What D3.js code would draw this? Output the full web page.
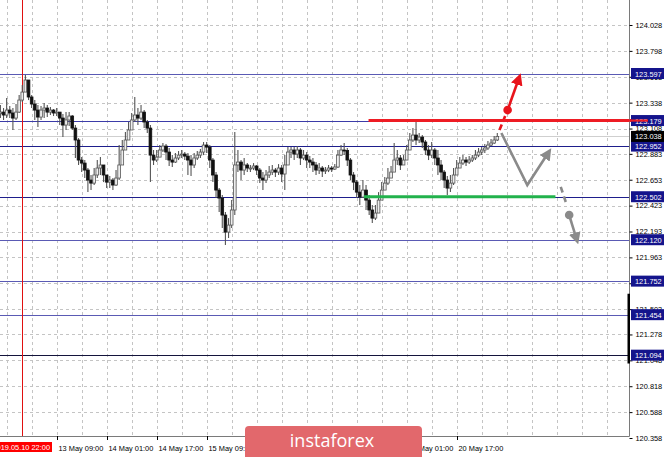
<!DOCTYPE html>
<html><head><meta charset="utf-8">
<script src="https://cdn.jsdelivr.net/npm/d3@7"></script>
<style>html,body{margin:0;padding:0;background:#fff;}svg{display:block;}</style>
</head><body>
<svg id="chart" width="665" height="457"></svg>
<script>
// ---- DATA (H1 candles) ----
const opens = [123.240,123.254,123.228,123.272,123.246,123.201,123.254,123.361,123.432,123.539,123.388,123.326,123.272,123.210,123.272,123.290,123.254,123.272,123.246,123.254,123.201,123.139,123.184,123.219,123.112,123.006,122.828,122.801,122.739,122.650,122.623,122.695,122.757,122.784,122.695,122.632,122.650,122.606,122.668,122.784,122.917,123.006,123.095,123.184,123.228,123.201,123.254,123.166,123.112,122.872,122.828,122.854,122.917,122.952,122.899,122.828,122.810,122.846,122.872,122.881,122.863,122.828,122.784,122.846,122.872,122.899,122.961,122.943,122.828,122.695,122.561,122.490,122.339,122.188,122.250,122.384,122.784,122.810,122.739,122.784,122.757,122.757,122.775,122.739,122.668,122.650,122.695,122.721,122.739,122.721,122.757,122.704,122.784,122.899,122.917,122.881,122.917,122.846,122.872,122.828,122.810,122.784,122.739,122.757,122.730,122.739,122.757,122.748,122.766,122.872,122.917,122.912,122.828,122.695,122.632,122.543,122.499,122.561,122.472,122.384,122.312,122.357,122.472,122.561,122.623,122.668,122.721,122.828,122.846,122.784,122.828,122.917,123.006,123.050,123.006,123.032,122.988,122.917,122.872,122.917,122.846,122.784,122.721,122.650,122.579,122.623,122.695,122.757,122.801,122.828,122.810,122.828,122.846,122.872,122.899,122.917,122.935,122.961,122.979,123.006];
const highs = [123.317,123.290,123.379,123.308,123.290,123.326,123.406,123.494,123.583,123.468,123.406,123.361,123.317,123.308,123.334,123.317,123.299,123.281,123.290,123.254,123.237,123.254,123.254,123.228,123.139,123.023,122.854,122.828,122.757,122.695,122.757,122.828,122.854,122.784,122.695,122.686,122.668,122.739,122.961,123.006,123.077,123.166,123.246,123.388,123.290,123.317,123.272,123.184,123.139,122.917,122.917,122.961,122.979,122.970,122.935,122.872,122.890,122.908,122.917,122.899,122.890,122.872,122.890,122.908,122.926,122.988,122.988,122.961,122.846,122.721,122.579,122.517,122.366,122.312,122.472,123.077,122.917,122.828,122.846,122.801,122.784,122.801,122.784,122.757,122.721,122.739,122.775,122.784,122.757,122.792,122.784,122.872,122.943,122.943,122.943,122.952,122.935,122.917,122.899,122.863,122.846,122.810,122.801,122.775,122.766,122.784,122.775,122.792,122.917,122.961,122.979,122.935,122.846,122.721,122.650,122.606,122.650,122.606,122.517,122.428,122.428,122.543,122.632,122.677,122.757,122.775,122.979,122.917,122.872,122.872,122.961,123.068,123.112,123.184,123.068,123.050,123.006,122.961,122.988,122.935,122.917,122.828,122.739,122.686,122.695,122.757,122.828,122.854,122.872,122.854,122.863,122.872,122.917,122.935,122.943,122.970,122.997,123.014,123.041,123.068];
const lows = [123.201,123.184,123.201,123.201,123.095,123.184,123.246,123.343,123.432,123.361,123.290,123.184,123.121,123.184,123.201,123.210,123.228,123.219,123.219,123.139,123.032,123.095,123.130,123.095,122.846,122.784,122.721,122.668,122.543,122.561,122.606,122.668,122.695,122.632,122.579,122.579,122.561,122.597,122.650,122.828,122.917,123.006,123.112,123.166,123.139,123.184,123.112,123.068,122.632,122.784,122.810,122.854,122.899,122.828,122.775,122.766,122.801,122.828,122.846,122.828,122.695,122.686,122.757,122.828,122.846,122.872,122.890,122.757,122.632,122.490,122.366,122.224,122.072,122.135,122.224,122.339,122.721,122.650,122.695,122.721,122.721,122.739,122.695,122.623,122.561,122.623,122.668,122.695,122.677,122.695,122.632,122.561,122.784,122.846,122.828,122.846,122.784,122.828,122.757,122.757,122.721,122.695,122.704,122.677,122.704,122.721,122.721,122.739,122.757,122.863,122.872,122.775,122.650,122.561,122.490,122.428,122.490,122.384,122.339,122.268,122.295,122.401,122.517,122.561,122.606,122.668,122.739,122.784,122.739,122.784,122.846,122.917,122.988,122.961,122.979,122.935,122.872,122.828,122.846,122.784,122.695,122.650,122.579,122.517,122.543,122.606,122.695,122.757,122.784,122.775,122.792,122.810,122.828,122.854,122.872,122.890,122.917,122.952,122.970,122.997];
const closes = [123.254,123.228,123.272,123.246,123.201,123.254,123.361,123.432,123.539,123.388,123.326,123.272,123.210,123.272,123.290,123.254,123.272,123.246,123.254,123.201,123.139,123.184,123.219,123.112,123.006,122.828,122.801,122.739,122.650,122.623,122.695,122.757,122.784,122.695,122.632,122.650,122.606,122.668,122.784,122.917,123.006,123.095,123.184,123.228,123.201,123.254,123.166,123.112,122.872,122.828,122.854,122.917,122.952,122.899,122.828,122.810,122.846,122.872,122.881,122.863,122.828,122.784,122.846,122.872,122.899,122.961,122.943,122.828,122.695,122.561,122.490,122.339,122.188,122.250,122.384,122.784,122.810,122.739,122.784,122.757,122.757,122.775,122.739,122.668,122.650,122.695,122.721,122.739,122.721,122.757,122.704,122.784,122.899,122.917,122.881,122.917,122.846,122.872,122.828,122.810,122.784,122.739,122.757,122.730,122.739,122.757,122.748,122.766,122.872,122.917,122.912,122.828,122.695,122.632,122.543,122.499,122.561,122.472,122.384,122.312,122.357,122.472,122.561,122.623,122.668,122.721,122.828,122.846,122.784,122.828,122.917,123.006,123.050,123.006,123.032,122.988,122.917,122.872,122.917,122.846,122.784,122.721,122.650,122.579,122.623,122.695,122.757,122.801,122.828,122.810,122.828,122.846,122.872,122.899,122.917,122.935,122.961,122.979,123.006,123.038];

const priceTicks = [124.028,123.798,123.568,123.338,123.108,122.883,122.653,122.423,122.193,121.963,121.733,121.503,121.278,121.048,120.818,120.588,120.358];
const timeLabels = ["13 May 09:00","14 May 01:00","14 May 17:00","15 May 09:00","16 May 01:00","16 May 17:00","17 May 09:00","20 May 01:00","20 May 17:00"];
const timeLabelBars = [18,34,50,66,82,98,114,130,146];
const markerTime = "2019.05.10 22:00";
const markerBar = 7;
const levels = [123.597,123.179,122.952,122.502,122.120,121.752,121.454,121.094];
const currentPrice = 123.038;
// forecast lines: [bar, price]
const resistance = {price:123.179, fromBar:117.8};
const support = {price:122.502, fromBar:116.3, toBar:177.6};
const bullPath = [[159.7,123.095],[162.3,123.272]];
const bullArrow = [[162.3,123.272],[165.6,123.53]];
const pullbackPath = [[160.3,123.068],[168.6,122.606],[174.8,122.870]];
const bearPath = [[179.3,122.590],[181.2,122.430]];
const bearArrow = [[182.0,122.339],[184.1,122.150]];
const scrollMark = [121.64, 121.02];

// ---- STYLES ----
const levelColors = ["#5a5ab4","#3c3ca8","#1e1e8c","#1e1e8c","#5a5ab4","#5a5ab4","#5a5ab4","#14143c"];
const FONT = "'Liberation Sans', Arial, sans-serif";

const W = 665, H = 457, PR = 629, PB = 436;
const svg = d3.select("#chart");
svg.append("rect").attr("width",W).attr("height",H).attr("fill","#fff");

const x = d3.scaleLinear().domain([0,159]).range([0.4,497.3]);
const y = d3.scaleLinear().domain([120.358,124.028]).range([438,25]);

const defs = svg.append("defs");
defs.append("clipPath").attr("id","plot").append("rect").attr("x",0).attr("y",0).attr("width",PR).attr("height",PB);
function marker(id,color){
  defs.append("marker").attr("id",id).attr("viewBox","0 0 10 10").attr("refX",3).attr("refY",5)
    .attr("markerWidth",4.6).attr("markerHeight",4.6).attr("orient","auto").attr("markerUnits","strokeWidth")
    .append("path").attr("d","M0,0 L10,5 L0,10 Z").attr("fill",color);
}
marker("arRed","#e8141c"); marker("arGray","#8a8a8a");

const plot = svg.append("g").attr("clip-path","url(#plot)");

// grid
const vBars = d3.range(2, 205, 8);
plot.selectAll("line.vg").data(vBars).join("line")
  .attr("x1",d=>Math.round(x(d))+0.5).attr("x2",d=>Math.round(x(d))+0.5).attr("y1",0).attr("y2",PB)
  .attr("stroke","#c4c4c4").attr("stroke-dasharray","3,3");
plot.selectAll("line.hg").data(priceTicks).join("line")
  .attr("x1",0).attr("x2",PR).attr("y1",d=>Math.round(y(d))+0.5).attr("y2",d=>Math.round(y(d))+0.5)
  .attr("stroke","#c4c4c4").attr("stroke-dasharray","3,3");

// bid line
plot.append("line").attr("x1",0).attr("x2",PR).attr("y1",Math.round(y(currentPrice))+0.5).attr("y2",Math.round(y(currentPrice))+0.5)
  .attr("stroke","#cfcfcf").attr("stroke-width",1.2);

// level lines
plot.selectAll("line.lv").data(levels).join("line")
  .attr("x1",0).attr("x2",PR).attr("y1",d=>Math.round(y(d))+0.5).attr("y2",d=>Math.round(y(d))+0.5)
  .attr("stroke",(d,i)=>levelColors[i]).attr("stroke-width",1.1);

// marker vertical line
plot.append("line").attr("x1",Math.round(x(markerBar))+0.5).attr("x2",Math.round(x(markerBar))+0.5).attr("y1",0).attr("y2",PB)
  .attr("stroke","#e01010").attr("stroke-width",1);

// candles
const idx = d3.range(closes.length);
const cg = plot.append("g");
cg.selectAll("line.wick").data(idx).join("line")
  .attr("x1",i=>x(i)).attr("x2",i=>x(i)).attr("y1",i=>y(highs[i])).attr("y2",i=>y(lows[i]))
  .attr("stroke","#555").attr("stroke-width",1.1);
cg.selectAll("rect.body").data(idx).join("rect")
  .attr("x",i=>x(i)-1.35).attr("width",2.7)
  .attr("y",i=>y(Math.max(opens[i],closes[i])))
  .attr("height",i=>Math.max(1,Math.abs(y(opens[i])-y(closes[i]))))
  .attr("fill",i=>closes[i]>=opens[i]?"#eee":"#111")
  .attr("stroke",i=>closes[i]>=opens[i]?"#555":"#111").attr("stroke-width",0.8);

// support / resistance zones
svg.append("line").attr("x1",x(resistance.fromBar)).attr("x2",648).attr("y1",y(resistance.price)).attr("y2",y(resistance.price))
  .attr("stroke","#ee1c24").attr("stroke-width",3);
plot.append("line").attr("x1",x(support.fromBar)).attr("x2",x(support.toBar)).attr("y1",y(support.price)).attr("y2",y(support.price))
  .attr("stroke","#22b24c").attr("stroke-width",3.2);

// forecast arrows
const line = d3.line().x(d=>x(d[0])).y(d=>y(d[1]));
plot.append("path").attr("d",line(bullPath)).attr("fill","none").attr("stroke","#e8141c").attr("stroke-width",2.6).attr("stroke-dasharray","6,3");
plot.append("circle").attr("cx",x(bullArrow[0][0])).attr("cy",y(bullArrow[0][1])).attr("r",4.3).attr("fill","#e8141c");
plot.append("path").attr("d",line(bullArrow)).attr("fill","none").attr("stroke","#e8141c").attr("stroke-width",2.6).attr("marker-end","url(#arRed)");
plot.append("path").attr("d",line(pullbackPath)).attr("fill","none").attr("stroke","#8a8a8a").attr("stroke-width",2.6).attr("marker-end","url(#arGray)");
plot.append("path").attr("d",line(bearPath)).attr("fill","none").attr("stroke","#8a8a8a").attr("stroke-width",2.6).attr("stroke-dasharray","6,4");
plot.append("circle").attr("cx",x(bearArrow[0][0])).attr("cy",y(bearArrow[0][1])).attr("r",4.3).attr("fill","#8a8a8a");
plot.append("path").attr("d",line(bearArrow)).attr("fill","none").attr("stroke","#8a8a8a").attr("stroke-width",2.6).attr("marker-end","url(#arGray)");

// frame
svg.append("line").attr("x1",PR+0.5).attr("x2",PR+0.5).attr("y1",0).attr("y2",PB+0.5).attr("stroke","#7a7a7a");
svg.append("line").attr("x1",0).attr("x2",PR+0.5).attr("y1",PB+0.5).attr("y2",PB+0.5).attr("stroke","#7a7a7a");

// price axis
const yAxis = d3.axisRight(y).tickValues(priceTicks).tickSize(3).tickPadding(3).tickFormat(d3.format(".3f"));
const ya = svg.append("g").attr("transform",`translate(${PR+0.5},0)`).call(yAxis);
ya.select(".domain").remove();
ya.selectAll("text").attr("font-family",FONT).attr("font-size","7.4px").attr("fill","#000");
ya.selectAll("line").attr("stroke","#000");

// level labels
const lg = svg.append("g").selectAll("g").data(levels).join("g").attr("transform",d=>`translate(631,${y(d)})`);
lg.append("rect").attr("x",0).attr("y",-5.5).attr("width",33).attr("height",11).attr("fill","#14148c");
lg.append("text").attr("x",4).attr("y",3).attr("font-family",FONT).attr("font-size","7.4px").attr("fill","#fff").text(d=>d3.format(".3f")(d));
// resistance line crosses its label
svg.append("line").attr("x1",PR).attr("x2",648).attr("y1",y(resistance.price)).attr("y2",y(resistance.price)).attr("stroke","#ee1c24").attr("stroke-width",2.2);
// current price label
const cp = svg.append("g").attr("transform",`translate(631,${y(currentPrice)})`);
cp.append("rect").attr("x",0).attr("y",-5.5).attr("width",33).attr("height",11).attr("fill","#000");
cp.append("text").attr("x",4).attr("y",3).attr("font-family",FONT).attr("font-size","7.4px").attr("fill","#fff").text(d3.format(".3f")(currentPrice));

// scroll marker on axis
svg.append("rect").attr("x",627.5).attr("y",y(scrollMark[0])).attr("width",2.5).attr("height",y(scrollMark[1])-y(scrollMark[0])).attr("fill","#000");

// time axis
const tg = svg.append("g").selectAll("g").data(timeLabels).join("g").attr("transform",(d,i)=>`translate(${Math.round(x(timeLabelBars[i]))+0.5},${PB})`);
tg.append("line").attr("y1",0).attr("y2",4).attr("stroke","#000");
tg.append("text").attr("x",1).attr("y",14.5).attr("font-family",FONT).attr("font-size","7.4px").attr("fill","#000").text(d=>d);
// marker time label
svg.append("rect").attr("x",0).attr("y",442).attr("width",52).attr("height",10).attr("fill","#ff0000");
svg.append("text").attr("x",50).attr("y",450).attr("text-anchor","end").attr("font-family",FONT).attr("font-size","7.4px").attr("fill","#fff").text(markerTime);

// logo
svg.append("rect").attr("x",245).attr("y",426).attr("width",177).attr("height",40).attr("rx",4).attr("fill","#e2686c");
svg.append("text").attr("x",332).attr("y",447).attr("text-anchor","middle").attr("font-family","'Open Sans', sans-serif").attr("font-size","18px").attr("fill","#fff").text("instaforex");
</script>
</body></html>
